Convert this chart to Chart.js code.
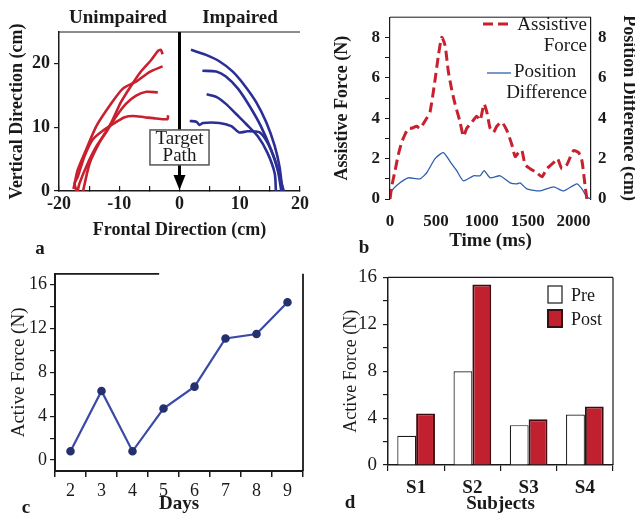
<!DOCTYPE html>
<html>
<head>
<meta charset="utf-8">
<script src="https://cdn.jsdelivr.net/npm/chart.js@4.4.1/dist/chart.umd.min.js"></script>
<style>
  html, body { margin: 0; padding: 0; background: #fff; }
  #wrap { position: relative; width: 635px; height: 517px; overflow: hidden; background: #fff; }
  #wrap canvas { position: absolute; }
</style>
</head>
<body>
<div id="wrap">
  <canvas id="chart-a" width="317" height="260" style="left:0px;top:0px"></canvas>
  <canvas id="chart-b" width="318" height="260" style="left:317px;top:0px"></canvas>
  <canvas id="chart-c" width="317" height="257" style="left:0px;top:260px"></canvas>
  <canvas id="chart-d" width="318" height="257" style="left:317px;top:260px"></canvas>
</div>
<script>
// a: hand paths, [frontal cm, vertical cm]
const unimpaired1 = [[-2.8,21.5],[-3.1,22.2],[-3.6,22.0],[-4.7,20.6],[-6.4,18.8],[-8.0,16.6],[-9.7,14.0],[-11.3,10.8],[-13.3,7.6],[-14.9,4.4],[-16.0,0]];
const unimpaired2 = [[-2.8,19.6],[-5.0,18.7],[-7.2,17.2],[-9.4,16.1],[-11.6,13.4],[-13.8,10.2],[-15.5,6.5],[-16.9,3.3],[-17.4,1.2],[-17.6,0.3]];
const unimpaired3 = [[-3.6,15.5],[-5.5,15.6],[-7.2,15.0],[-8.9,13.7],[-10.6,11.6],[-12.2,9.2],[-13.8,7.0],[-15.2,4.4],[-16.6,1.2],[-16.9,0]];
const unimpaired4 = [[-1.9,11.9],[-2.0,11.3],[-3.9,11.4],[-5.8,11.6],[-7.7,11.8],[-9.1,11.6],[-10.6,10.8],[-12.7,9.5],[-14.4,8.1],[-15.8,5.4],[-16.9,2.2],[-17.4,1.2],[-17.1,0]];
const impaired1 = [[1.9,22.2],[4.4,21.4],[6.6,20.4],[8.8,18.8],[10.8,16.6],[12.7,14.0],[14.4,10.8],[15.8,7.1],[16.6,3.8],[17.1,0]];
const impaired2 = [[3.8,18.9],[6.1,18.8],[7.7,18.0],[9.7,16.1],[11.6,13.4],[13.5,10.2],[15.2,6.5],[16.3,3.3],[16.9,0]];
const impaired3 = [[4.5,15.2],[6.1,14.8],[7.7,13.7],[9.4,12.1],[11.1,10.5],[13.0,8.6],[14.6,6.0],[15.8,2.8],[16.0,0]];
const impaired4 = [[1.7,11.0],[2.8,10.9],[3.3,10.4],[3.9,10.7],[6.6,10.7],[8.6,10.2],[9.9,9.2],[11.3,9.4],[13.3,9.2],[14.6,7.6],[15.8,5.0],[16.6,2.4],[17.3,0]];
const targetLabel = ['Target', 'Path'];
const pathXTicks = [-20, -15, -10, -5, 0, 5, 10, 15, 20];
const pathYTicks = [0, 10, 20];

// b: one movement
const forceTime = [0,18,55,91,127,164,200,236,291,327,400,436,491,527,564,600,636,673,709,764,800,836,891,945,982,1025,1055,1091,1127,1164,1218,1273,1327,1364,1400,1436,1473,1527,1600,1655,1709,1782,1825,1873,1927,2000,2055,2091,2127,2145];
const forceValue = [0,0.6,1.4,2.2,2.8,3.2,3.5,3.5,3.6,3.5,4.0,4.3,5.9,7.1,8.0,7.6,6.3,5.4,4.7,3.8,3.1,3.5,3.8,4.1,3.9,4.7,4.3,3.5,3.3,3.6,3.8,3.4,2.7,2.1,2.3,2.4,1.7,1.5,1.3,1.1,1.5,1.8,2.0,1.5,1.7,2.4,2.3,1.9,0.6,0];
const diffTime = [0,18,109,200,327,400,491,582,655,727,800,909,982,1025,1091,1200,1309,1382,1418,1491,1636,1782,1891,2036,2091,2145,2189];
const diffValue = [0.1,0.4,0.8,1.05,1.0,1.3,2.0,2.3,1.85,1.4,0.9,1.15,1.15,1.4,1.05,1.15,0.8,0.75,0.8,0.5,0.4,0.6,0.4,0.75,0.5,0.1,0];
const forceLegend = ['Assistive', 'Force'];
const diffLegend = ['Position', 'Difference'];
const timeTicks = [0, 500, 1000, 1500, 2000];
const forceTicks = [0, 1, 2, 3, 4, 5, 6, 7, 8];
const diffTicks = [0, 2, 4, 6, 8];

// c: active force by day
const dayLabels = ['2', '3', '4', '5', '6', '7', '8', '9'];
const dailyForce = [0.8, 6.3, 0.8, 4.7, 6.7, 11.1, 11.5, 14.4];
const activeTicks = [0, 2, 4, 6, 8, 10, 12, 14, 16];

// d: pre / post per subject
const subjects = ['S1', 'S2', 'S3', 'S4'];
const preForce = [2.5, 8.0, 3.4, 4.3];
const postForce = [4.4, 15.4, 3.9, 5.0];

const SERIF = "'Liberation Serif', 'Times New Roman', serif";
const INK = '#1a1a1a';
const RED = '#c8202e';
const NAVY = '#2b2f95';

const toXY = pts => pts.map(p => ({x: p[0], y: p[1]}));
const zip = (xs, ys) => xs.map((x, i) => ({x: x, y: ys[i]}));
const font = (size, bold) => ({family: SERIF, size: size, weight: bold ? 'bold' : 'normal', lineHeight: 1.2});
const setTicks = values => (s => { s.ticks = values.map(v => ({value: v})); });

// free text (headings, panel letters)
const panelText = {
    id: 'panelText',
    afterDraw(chart, args, opts) {
        const ctx = chart.ctx;
        (opts.items || []).forEach(function (it) {
            ctx.save();
            ctx.font = it.font;
            ctx.fillStyle = INK;
            ctx.textAlign = it.align || 'left';
            ctx.textBaseline = 'middle';
            ctx.fillText(it.text, it.x, it.y);
            ctx.restore();
        });
    }
};

// top / right box lines
const frame = {
    id: 'frame',
    afterDraw(chart, args, opts) {
        if (!opts.top && !opts.right) return;
        const ctx = chart.ctx;
        const a = chart.chartArea;
        ctx.save();
        ctx.strokeStyle = opts.color || INK;
        ctx.lineWidth = opts.width || 1.2;
        ctx.beginPath();
        if (opts.top) {
            ctx.moveTo(a.left, a.top);
            ctx.lineTo(a.left + (a.right - a.left) * opts.top, a.top);
        }
        if (opts.right) {
            ctx.moveTo(a.right, a.top);
            ctx.lineTo(a.right, a.bottom);
        }
        ctx.stroke();
        ctx.restore();
    }
};
Chart.register(panelText, frame);

// vertical target line, label box and arrow on x = 0
const targetPath = {
    id: 'targetPath',
    afterDatasetsDraw(chart) {
        const ctx = chart.ctx;
        const x = chart.scales.x, y = chart.scales.y;
        const cx = x.getPixelForValue(0);
        const boxTop = y.getPixelForValue(9.6);
        const boxBottom = y.getPixelForValue(4.1);
        const half = cx - x.getPixelForValue(-4.9);
        const tip = y.getPixelForValue(0);
        ctx.save();
        ctx.strokeStyle = '#000';
        ctx.lineWidth = 3;
        ctx.beginPath();
        ctx.moveTo(cx, chart.chartArea.top);
        ctx.lineTo(cx, boxTop);
        ctx.moveTo(cx, boxBottom);
        ctx.lineTo(cx, tip - 14);
        ctx.stroke();
        ctx.fillStyle = '#000';
        ctx.beginPath();
        ctx.moveTo(cx - 6, tip - 16);
        ctx.lineTo(cx + 6, tip - 16);
        ctx.lineTo(cx, tip - 1);
        ctx.closePath();
        ctx.fill();
        ctx.fillStyle = '#fff';
        ctx.strokeStyle = '#555';
        ctx.lineWidth = 1.5;
        ctx.fillRect(cx - half, boxTop, half * 2, boxBottom - boxTop);
        ctx.strokeRect(cx - half, boxTop, half * 2, boxBottom - boxTop);
        ctx.fillStyle = INK;
        ctx.font = '19px ' + SERIF;
        ctx.textAlign = 'center';
        ctx.textBaseline = 'middle';
        ctx.fillText(targetLabel[0], cx, boxTop + 9);
        ctx.fillText(targetLabel[1], cx, boxTop + 26);
        ctx.restore();
    }
};

const pathStyle = color => ({borderColor: color, backgroundColor: color, borderWidth: 2.6, pointRadius: 0, showLine: true, tension: 0.25, fill: false});

const ctxA = document.getElementById('chart-a').getContext('2d');
const chartA = new Chart(ctxA, {
    type: 'scatter',
    data: {
        datasets: [
            {label: 'Unimpaired 1', data: toXY(unimpaired1), ...pathStyle(RED)},
            {label: 'Unimpaired 2', data: toXY(unimpaired2), ...pathStyle(RED)},
            {label: 'Unimpaired 3', data: toXY(unimpaired3), ...pathStyle(RED)},
            {label: 'Unimpaired 4', data: toXY(unimpaired4), ...pathStyle(RED)},
            {label: 'Impaired 1', data: toXY(impaired1), ...pathStyle(NAVY)},
            {label: 'Impaired 2', data: toXY(impaired2), ...pathStyle(NAVY)},
            {label: 'Impaired 3', data: toXY(impaired3), ...pathStyle(NAVY)},
            {label: 'Impaired 4', data: toXY(impaired4), ...pathStyle(NAVY)}
        ]
    },
    options: {
        responsive: false,
        animation: false,
        layout: {padding: {top: 32, right: 17, left: 0, bottom: 0}},
        plugins: {
            legend: {display: false},
            tooltip: {enabled: false},
            frame: {top: 1, width: 1},
            panelText: {items: [
                {text: 'Unimpaired', x: 118, y: 18, font: 'bold 19px ' + SERIF, align: 'center'},
                {text: 'Impaired', x: 240, y: 18, font: 'bold 19px ' + SERIF, align: 'center'},
                {text: 'a', x: 40, y: 249, font: 'bold 19px ' + SERIF, align: 'center'}
            ]}
        },
        scales: {
            x: {
                type: 'linear', min: -20, max: 20,
                afterBuildTicks: setTicks(pathXTicks),
                afterFit: s => { s.height = 69; },
                ticks: {autoSkip: false, maxRotation: 0, padding: 8, color: INK, font: font(18, true),
                    callback: v => v % 10 === 0 ? String(v) : ''},
                grid: {drawOnChartArea: false, tickLength: -5, color: INK, lineWidth: 1.2},
                border: {color: INK, width: 1.5},
                title: {display: true, text: 'Frontal Direction (cm)', color: INK, font: font(18, true), padding: {top: 0, bottom: 19}}
            },
            y: {
                min: 0, max: 25,
                afterBuildTicks: setTicks(pathYTicks),
                afterFit: s => { s.width = 59; },
                ticks: {autoSkip: false, padding: 4, color: INK, font: font(18, true)},
                grid: {drawOnChartArea: false, tickLength: 5, color: INK, lineWidth: 1.2},
                border: {color: INK, width: 1.5},
                title: {display: true, text: 'Vertical Direction (cm)', color: INK, font: font(18, true), padding: {top: 7, bottom: 0}}
            }
        }
    },
    plugins: [targetPath]
});

// legend of panel b, drawn from the dataset styles
const legendB = {
    id: 'legendB',
    afterDraw(chart) {
        const ctx = chart.ctx;
        const force = chart.data.datasets[0], diff = chart.data.datasets[1];
        ctx.save();
        ctx.strokeStyle = force.borderColor;
        ctx.lineWidth = force.borderWidth;
        ctx.setLineDash(force.borderDash);
        ctx.beginPath();
        ctx.moveTo(166, 24);
        ctx.lineTo(193, 24);
        ctx.stroke();
        ctx.setLineDash([]);
        ctx.strokeStyle = diff.borderColor;
        ctx.lineWidth = diff.borderWidth;
        ctx.beginPath();
        ctx.moveTo(170, 73);
        ctx.lineTo(194, 73);
        ctx.stroke();
        ctx.fillStyle = INK;
        ctx.font = '19px ' + SERIF;
        ctx.textBaseline = 'middle';
        ctx.textAlign = 'right';
        ctx.fillText(forceLegend[0], 270, 25);
        ctx.fillText(forceLegend[1], 270, 46.5);
        ctx.fillText(diffLegend[1], 270, 93);
        ctx.textAlign = 'left';
        ctx.fillText(diffLegend[0], 197, 72.5);
        ctx.restore();
    }
};

const ctxB = document.getElementById('chart-b').getContext('2d');
const chartB = new Chart(ctxB, {
    type: 'scatter',
    data: {
        datasets: [
            {label: 'Assistive Force', data: zip(forceTime, forceValue), yAxisID: 'y', showLine: true, borderColor: RED, backgroundColor: RED,
                borderWidth: 3, borderDash: [10, 5], pointRadius: 0, tension: 0.2, fill: false},
            {label: 'Position Difference', data: zip(diffTime, diffValue), yAxisID: 'y2', showLine: true, borderColor: '#2f5fae', backgroundColor: '#2f5fae',
                borderWidth: 1.3, pointRadius: 0, tension: 0.2, fill: false}
        ]
    },
    options: {
        responsive: false,
        animation: false,
        layout: {padding: {top: 12, right: 0, left: 0, bottom: 0}},
        plugins: {
            legend: {display: false},
            tooltip: {enabled: false},
            frame: {top: 1, width: 1},
            panelText: {items: [
                {text: 'b', x: 47, y: 248, font: 'bold 19px ' + SERIF, align: 'center'}
            ]}
        },
        scales: {
            x: {
                type: 'linear', min: 0, max: 2190,
                afterBuildTicks: setTicks(timeTicks),
                afterFit: s => { s.height = 61; },
                ticks: {autoSkip: false, maxRotation: 0, padding: 12, color: INK, font: font(17, true), callback: v => String(v)},
                grid: {display: false, drawTicks: false},
                border: {display: false},
                title: {display: true, text: 'Time (ms)', color: INK, font: font(19, true), padding: {top: 0, bottom: 8}}
            },
            y: {
                min: 0, max: 9,
                afterBuildTicks: setTicks(forceTicks),
                afterFit: s => { s.width = 73; },
                ticks: {autoSkip: false, padding: 5, color: INK, font: font(17, true), callback: v => v % 2 === 0 ? String(v) : ''},
                grid: {drawOnChartArea: false, tickLength: 5, color: INK, lineWidth: 1},
                border: {color: INK, width: 1.2},
                title: {display: true, text: 'Assistive Force (N)', color: INK, font: font(18, true), padding: {top: 15, bottom: 0}}
            },
            y2: {
                position: 'right', min: 0, max: 9,
                afterBuildTicks: setTicks(diffTicks),
                afterFit: s => { s.width = 44; },
                ticks: {autoSkip: false, padding: 7, color: INK, font: font(17, true)},
                grid: {display: false, drawTicks: false},
                border: {color: INK, width: 1.2},
                title: {display: true, text: 'Position Difference (cm)', color: INK, font: font(18, true), padding: {top: -4, bottom: 0}}
            }
        }
    },
    plugins: [legendB]
});

const ctxC = document.getElementById('chart-c').getContext('2d');
const chartC = new Chart(ctxC, {
    type: 'line',
    data: {
        labels: dayLabels,
        datasets: [
            {label: 'Active Force', data: dailyForce, borderColor: '#3a4aa5', borderWidth: 2.2, tension: 0,
                pointRadius: 3.2, pointBackgroundColor: '#25306f', pointBorderColor: '#25306f', fill: false}
        ]
    },
    options: {
        responsive: false,
        animation: false,
        layout: {padding: {top: 13, right: 14, left: 0, bottom: 0}},
        plugins: {
            legend: {display: false},
            tooltip: {enabled: false},
            frame: {top: 0.42, right: true, width: 1.8},
            panelText: {items: [
                {text: 'c', x: 26, y: 248, font: 'bold 19px ' + SERIF, align: 'center'}
            ]}
        },
        scales: {
            x: {
                offset: true,
                afterFit: s => { s.height = 46; },
                ticks: {padding: 3, maxRotation: 0, color: INK, font: font(18, false)},
                grid: {offset: true, drawOnChartArea: false, tickLength: 6, color: INK, lineWidth: 1.5},
                border: {color: INK, width: 2},
                title: {display: true, text: 'Days', color: INK, font: font(19, true), padding: {top: 0, bottom: 2}}
            },
            y: {
                min: -1, max: 17,
                afterBuildTicks: setTicks(activeTicks),
                afterFit: s => { s.width = 55; },
                ticks: {autoSkip: false, padding: 3, color: INK, font: font(18, false), callback: v => v % 4 === 0 ? String(v) : ''},
                grid: {drawOnChartArea: false, tickLength: 5, color: INK, lineWidth: 1.2},
                border: {color: INK, width: 2},
                title: {display: true, text: 'Active Force (N)', color: INK, font: font(19, false), padding: {top: 8, bottom: 0}}
            }
        }
    }
});

// legend of panel d, drawn from the dataset styles
const legendD = {
    id: 'legendD',
    afterDraw(chart) {
        const ctx = chart.ctx;
        ctx.save();
        chart.data.datasets.forEach(function (ds, i) {
            const top = 26 + i * 24;
            ctx.fillStyle = ds.backgroundColor;
            ctx.fillRect(231, top, 14, 17);
            ctx.strokeStyle = ds.borderColor;
            ctx.lineWidth = ds.borderWidth;
            ctx.strokeRect(231, top, 14, 17);
            ctx.fillStyle = INK;
            ctx.font = '18px ' + SERIF;
            ctx.textAlign = 'left';
            ctx.textBaseline = 'middle';
            ctx.fillText(ds.label, 254, top + 10);
        });
        ctx.restore();
    }
};

const ctxD = document.getElementById('chart-d').getContext('2d');
const chartD = new Chart(ctxD, {
    type: 'bar',
    data: {
        labels: subjects,
        datasets: [
            {label: 'Pre', data: preForce, backgroundColor: '#ffffff', borderColor: INK, borderWidth: 1.2,
                categoryPercentage: 0.67, barPercentage: 1.0},
            {label: 'Post', data: postForce, backgroundColor: '#c1202f', borderColor: '#3b0d12', borderWidth: 2,
                categoryPercentage: 0.67, barPercentage: 1.0}
        ]
    },
    options: {
        responsive: false,
        animation: false,
        layout: {padding: {top: 15, right: 22, left: 0, bottom: 0}},
        plugins: {
            legend: {display: false},
            tooltip: {enabled: false},
            frame: {top: 1, right: true, width: 1.2},
            panelText: {items: [
                {text: 'd', x: 33, y: 243, font: 'bold 19px ' + SERIF, align: 'center'}
            ]}
        },
        scales: {
            x: {
                afterFit: s => { s.height = 52; },
                ticks: {padding: 6, maxRotation: 0, color: INK, font: font(19, true)},
                grid: {offset: true, drawOnChartArea: false, tickLength: 6, color: INK, lineWidth: 1.2},
                border: {color: INK, width: 1.5},
                title: {display: true, text: 'Subjects', color: INK, font: font(19, true), padding: {top: 0, bottom: 2}}
            },
            y: {
                min: 0, max: 16,
                afterBuildTicks: setTicks(activeTicks),
                afterFit: s => { s.width = 71; },
                ticks: {autoSkip: false, padding: 6, color: INK, font: font(19, false), callback: v => v % 4 === 0 ? String(v) : ''},
                grid: {drawOnChartArea: false, tickLength: 5, color: INK, lineWidth: 1.2},
                border: {color: INK, width: 1.5},
                title: {display: true, text: 'Active Force (N)', color: INK, font: font(18, false), padding: {top: 23, bottom: 0}}
            }
        }
    },
    plugins: [legendD]
});
</script>
</body>
</html>
